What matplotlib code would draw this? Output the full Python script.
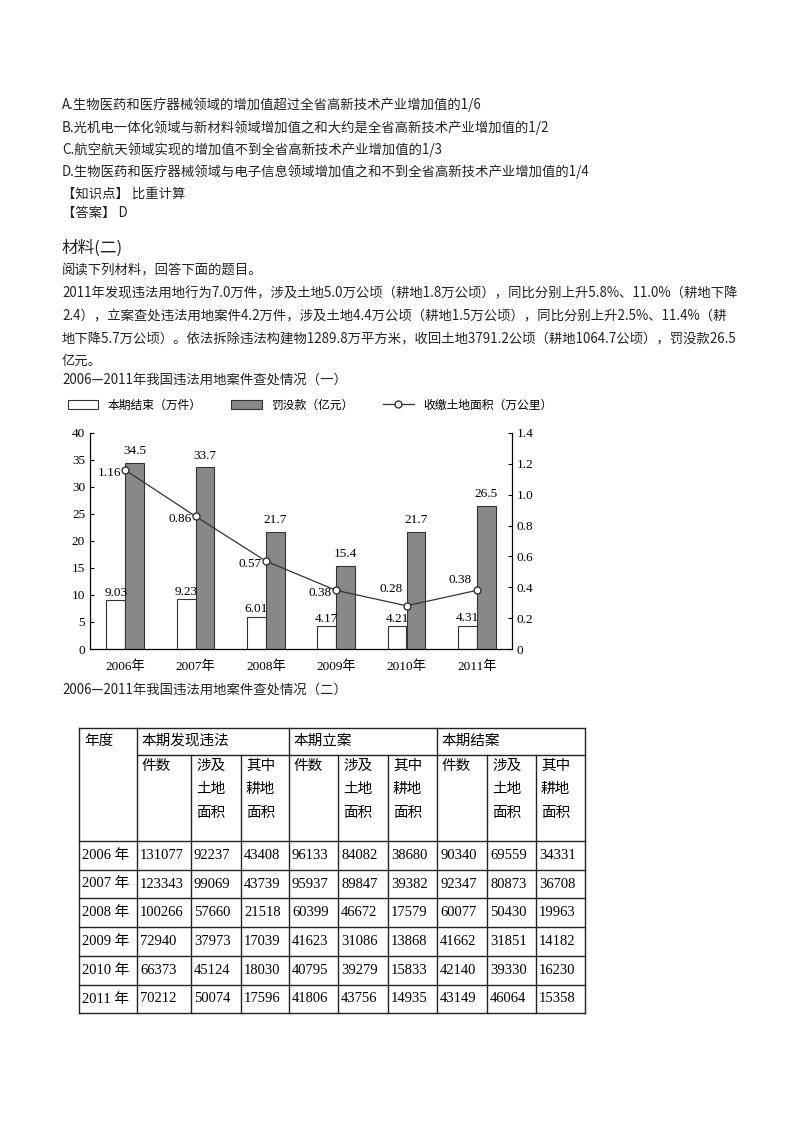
import matplotlib
matplotlib.use("Agg")
import matplotlib.pyplot as plt
import numpy as np

plt.rcParams['font.family'] = ['Noto Sans CJK SC', 'DejaVu Sans']

W, H = 800, 1132

years = ["2006年", "2007年", "2008年", "2009年", "2010年", "2011年"]
closed_cases = [9.03, 9.23, 6.01, 4.17, 4.21, 4.31]
fines = [34.5, 33.7, 21.7, 15.4, 21.7, 26.5]
land_area = [1.16, 0.86, 0.57, 0.38, 0.28, 0.38]

text_lines = [
    (105, "A.生物医药和医疗器械领域的增加值超过全省高新技术产业增加值的1/6"),
    (128, "B.光机电一体化领域与新材料领域增加值之和大约是全省高新技术产业增加值的1/2"),
    (150, "C.航空航天领域实现的增加值不到全省高新技术产业增加值的1/3"),
    (172, "D.生物医药和医疗器械领域与电子信息领域增加值之和不到全省高新技术产业增加值的1/4"),
    (194, "【知识点】 比重计算"),
    (213, "【答案】 D"),
    (270, "阅读下列材料，回答下面的题目。"),
    (293, "2011年发现违法用地行为7.0万件，涉及土地5.0万公顷（耕地1.8万公顷），同比分别上升5.8%、11.0%（耕地下降"),
    (316, "2.4），立案查处违法用地案件4.2万件，涉及土地4.4万公顷（耕地1.5万公顷），同比分别上升2.5%、11.4%（耕"),
    (339, "地下降5.7万公顷）。依法拆除违法构建物1289.8万平方米，收回土地3791.2公顷（耕地1064.7公顷），罚没款26.5"),
    (361, "亿元。"),
    (381, "2006—2011年我国违法用地案件查处情况（一）"),
    (691, "2006—2011年我国违法用地案件查处情况（二）"),
]

table_header = ["年度", "本期发现违法", "本期立案", "本期结案"]
sub_header = ["件数", "涉及\n土地\n面积", "其中\n耕地\n面积"]
table_rows = [
    [131077, 92237, 43408, 96133, 84082, 38680, 90340, 69559, 34331],
    [123343, 99069, 43739, 95937, 89847, 39382, 92347, 80873, 36708],
    [100266, 57660, 21518, 60399, 46672, 17579, 60077, 50430, 19963],
    [72940, 37973, 17039, 41623, 31086, 13868, 41662, 31851, 14182],
    [66373, 45124, 18030, 40795, 39279, 15833, 42140, 39330, 16230],
    [70212, 50074, 17596, 41806, 43756, 14935, 43149, 46064, 15358],
]

fig = plt.figure(figsize=(W / 100, H / 100), dpi=100)


def ftext(x, y, s, **kw):
    fig.text(x / W, 1 - y / H, s, **kw)


for y, s in text_lines:
    ftext(62, y, s, fontsize=9.6, va="center", color="#222222")
ftext(62, 248, "材料(二)", fontsize=12, va="center", color="#222222")

serif = "Liberation Serif"

# chart (一)
ax = fig.add_axes([90 / W, 1 - 649 / H, 422 / W, 216 / H])
x = np.arange(len(years))
bw = 0.27
b1 = ax.bar(x - bw / 2, closed_cases, bw, color="white", edgecolor="#333333", lw=0.8)
b2 = ax.bar(x + bw / 2, fines, bw, color="#888888", edgecolor="#333333", lw=0.8)
ax.set_ylim(0, 40)
ax.set_xlim(-0.5, 5.5)
ax.set_yticks(range(0, 41, 5))
ax.set_xticks(x)
ax.set_xticklabels(years, fontsize=9.5, family=[serif, "Noto Sans CJK SC"])
for v, xi in zip(closed_cases, x):
    ax.text(xi - bw / 2, v + 0.3, f"{v:.2f}", ha="center", va="bottom", fontsize=9.5, family=serif)
for v, xi in zip(fines, x):
    ax.text(xi + bw / 2, v + 1.0, f"{v}", ha="center", va="bottom", fontsize=9.5, family=serif)
ax.spines["top"].set_visible(False)
ax.tick_params(axis="y", labelsize=9.5, direction="in", length=3)
ax.tick_params(axis="x", length=0, pad=8)
for lab in ax.get_yticklabels():
    lab.set_family(serif)

ax2 = ax.twinx()
ln, = ax2.plot(x, land_area, color="#333333", lw=0.9, marker="o", ms=5, mfc="white", mec="#333333")
ax2.set_ylim(0, 1.4)
ax2.set_yticks(np.arange(0, 1.41, 0.2))
ax2.set_yticklabels(["0"] + [f"{v:.1f}" for v in np.arange(0.2, 1.41, 0.2)])
ax2.tick_params(labelsize=9.5, direction="in", length=3)
for lab in ax2.get_yticklabels():
    lab.set_family(serif)
ax2.spines["top"].set_visible(False)
for i, v in enumerate(land_area):
    if i == 5:
        ax2.text(x[i] - 0.08, v + 0.03, f"{v:.2f}", ha="right", va="bottom", fontsize=9.5, family=serif)
    elif i == 4:
        ax2.text(x[i] - 0.05, v + 0.07, f"{v:.2f}", ha="right", va="bottom", fontsize=9.5, family=serif)
    else:
        ax2.text(x[i] - 0.06, v - 0.02, f"{v:.2f}", ha="right", va="center", fontsize=9.5, family=serif)
fig.legend([b1, b2, ln], ["本期结束（万件）", "罚没款（亿元）", "收缴土地面积（万公里）"],
           loc="center", bbox_to_anchor=(310 / W, 1 - 405 / H), ncol=3, frameon=False,
           fontsize=8.5, handlelength=2.6, columnspacing=2.5)

# table (二)
cols = [79, 137, 191, 241, 289, 338, 388, 437, 487, 536, 585]
rows = [728, 755, 841, 870, 898, 927, 956, 985, 1013]
lc = "#222222"
for r in rows:
    x0 = cols[1] if r == rows[1] else cols[0]
    fig.add_artist(plt.Line2D([x0 / W, cols[-1] / W], [1 - r / H] * 2, color=lc, lw=1.0))
for i, c in enumerate(cols):
    top = rows[1] if i in (2, 3, 5, 6, 8, 9) else rows[0]
    fig.add_artist(plt.Line2D([c / W] * 2, [1 - top / H, 1 - rows[-1] / H], color=lc, lw=1.0))
hdr_x = [cols[0], cols[1], cols[4], cols[7]]
for hx, s in zip(hdr_x, table_header):
    ftext(hx + 5, 741, s, fontsize=10.5, va="center")
for g in range(3):
    for k, s in enumerate(sub_header):
        ci = 1 + g * 3 + k
        ftext(cols[ci] + 5, 759, s, fontsize=10.5, va="top", linespacing=1.85)
for ri, row in enumerate(table_rows):
    yc = (rows[ri + 2] + rows[ri + 3]) / 2
    ftext(cols[0] + 3, yc, years[ri][:4] + " 年", fontsize=10.5, va="center",
          family=[serif, "Noto Sans CJK SC"])
    for ci, v in enumerate(row):
        ftext(cols[ci + 1] + 3, yc, str(v), fontsize=10.5, va="center", family=serif)

fig.savefig("out.png", dpi=100)
